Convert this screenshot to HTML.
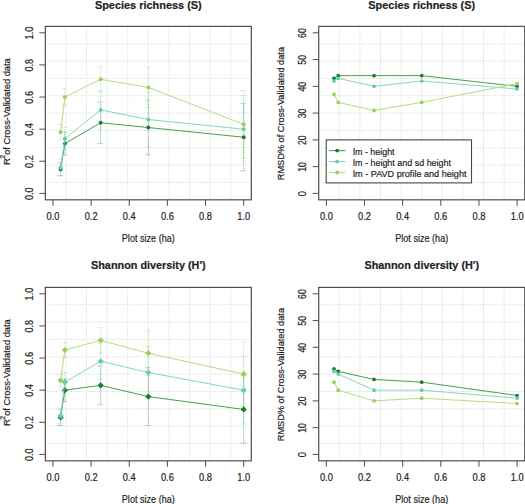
<!DOCTYPE html><html><head><meta charset="utf-8"><style>html,body{margin:0;padding:0;background:#fff;width:525px;height:504px;overflow:hidden}svg{display:block}text{font-family:"Liberation Sans",sans-serif;fill:#1e1e1e;stroke:#1e1e1e;stroke-width:0.2px}</style></head><body>
<svg width="525" height="504" viewBox="0 0 525 504">
<rect x="0" y="0" width="525" height="504" fill="#fff"/>
<g stroke="#d8d8d8" stroke-width="1" stroke-dasharray="1,1.15" fill="none">
<line x1="65.92" y1="26.38" x2="65.92" y2="199.82"/>
<line x1="45.32" y1="43.72" x2="251.33" y2="43.72"/>
<line x1="86.52" y1="26.38" x2="86.52" y2="199.82"/>
<line x1="45.32" y1="61.07" x2="251.33" y2="61.07"/>
<line x1="107.12" y1="26.38" x2="107.12" y2="199.82"/>
<line x1="45.32" y1="78.41" x2="251.33" y2="78.41"/>
<line x1="127.72" y1="26.38" x2="127.72" y2="199.82"/>
<line x1="45.32" y1="95.76" x2="251.33" y2="95.76"/>
<line x1="148.32" y1="26.38" x2="148.32" y2="199.82"/>
<line x1="45.32" y1="113.1" x2="251.33" y2="113.1"/>
<line x1="168.93" y1="26.38" x2="168.93" y2="199.82"/>
<line x1="45.32" y1="130.44" x2="251.33" y2="130.44"/>
<line x1="189.53" y1="26.38" x2="189.53" y2="199.82"/>
<line x1="45.32" y1="147.79" x2="251.33" y2="147.79"/>
<line x1="210.13" y1="26.38" x2="210.13" y2="199.82"/>
<line x1="45.32" y1="165.13" x2="251.33" y2="165.13"/>
<line x1="230.73" y1="26.38" x2="230.73" y2="199.82"/>
<line x1="45.32" y1="182.48" x2="251.33" y2="182.48"/>
</g>
<g stroke="#17802a" stroke-width="0.9" stroke-dasharray="1,1" fill="none" opacity="0.6">
<line x1="60.58" y1="175.73" x2="60.58" y2="162.89"/><line x1="57.58" y1="162.89" x2="63.58" y2="162.89"/><line x1="57.58" y1="175.73" x2="63.58" y2="175.73"/>
<line x1="64.87" y1="154.86" x2="64.87" y2="132.37"/><line x1="61.87" y1="132.37" x2="67.87" y2="132.37"/><line x1="61.87" y1="154.86" x2="67.87" y2="154.86"/>
<line x1="100.64" y1="143.61" x2="100.64" y2="101.86"/><line x1="97.64" y1="101.86" x2="103.64" y2="101.86"/><line x1="97.64" y1="143.61" x2="103.64" y2="143.61"/>
<line x1="148.32" y1="154.86" x2="148.32" y2="100.25"/><line x1="145.32" y1="100.25" x2="151.32" y2="100.25"/><line x1="145.32" y1="154.86" x2="151.32" y2="154.86"/>
<line x1="243.7" y1="170.92" x2="243.7" y2="103.46"/><line x1="240.7" y1="103.46" x2="246.7" y2="103.46"/><line x1="240.7" y1="170.92" x2="246.7" y2="170.92"/>
</g>
<g stroke="#66cdaa" stroke-width="0.9" stroke-dasharray="1,1" fill="none" opacity="0.6">
<line x1="60.58" y1="175.73" x2="60.58" y2="159.67"/><line x1="57.58" y1="159.67" x2="63.58" y2="159.67"/><line x1="57.58" y1="175.73" x2="63.58" y2="175.73"/>
<line x1="64.87" y1="150.04" x2="64.87" y2="127.55"/><line x1="61.87" y1="127.55" x2="67.87" y2="127.55"/><line x1="61.87" y1="150.04" x2="67.87" y2="150.04"/>
<line x1="100.64" y1="129.16" x2="100.64" y2="90.62"/><line x1="97.64" y1="90.62" x2="103.64" y2="90.62"/><line x1="97.64" y1="129.16" x2="103.64" y2="129.16"/>
<line x1="148.32" y1="146.83" x2="148.32" y2="92.22"/><line x1="145.32" y1="92.22" x2="151.32" y2="92.22"/><line x1="145.32" y1="146.83" x2="151.32" y2="146.83"/>
<line x1="243.7" y1="162.89" x2="243.7" y2="95.43"/><line x1="240.7" y1="95.43" x2="246.7" y2="95.43"/><line x1="240.7" y1="162.89" x2="246.7" y2="162.89"/>
</g>
<g stroke="#9ccf55" stroke-width="0.9" stroke-dasharray="1,1" fill="none" opacity="0.6">
<line x1="60.58" y1="140.4" x2="60.58" y2="124.34"/><line x1="57.58" y1="124.34" x2="63.58" y2="124.34"/><line x1="57.58" y1="140.4" x2="63.58" y2="140.4"/>
<line x1="64.87" y1="105.87" x2="64.87" y2="88.21"/><line x1="61.87" y1="88.21" x2="67.87" y2="88.21"/><line x1="61.87" y1="105.87" x2="67.87" y2="105.87"/>
<line x1="100.64" y1="92.22" x2="100.64" y2="66.53"/><line x1="97.64" y1="66.53" x2="103.64" y2="66.53"/><line x1="97.64" y1="92.22" x2="103.64" y2="92.22"/>
<line x1="148.32" y1="107.48" x2="148.32" y2="67.33"/><line x1="145.32" y1="67.33" x2="151.32" y2="67.33"/><line x1="145.32" y1="107.48" x2="151.32" y2="107.48"/>
<line x1="243.7" y1="158.07" x2="243.7" y2="90.62"/><line x1="240.7" y1="90.62" x2="246.7" y2="90.62"/><line x1="240.7" y1="158.07" x2="246.7" y2="158.07"/>
</g>
<polyline points="60.58,169.31 64.87,143.61 100.64,122.74 148.32,127.55 243.7,137.19" fill="none" stroke="#46a053" stroke-width="1"/>
<circle cx="60.58" cy="169.31" r="2" fill="#17802a"/>
<circle cx="64.87" cy="143.61" r="2" fill="#17802a"/>
<circle cx="100.64" cy="122.74" r="2" fill="#17802a"/>
<circle cx="148.32" cy="127.55" r="2" fill="#17802a"/>
<circle cx="243.7" cy="137.19" r="2" fill="#17802a"/>
<polyline points="60.58,167.7 64.87,138.8 100.64,109.89 148.32,119.52 243.7,129.16" fill="none" stroke="#86d6bb" stroke-width="1"/>
<circle cx="60.58" cy="167.7" r="2" fill="#66cdaa"/>
<circle cx="64.87" cy="138.8" r="2" fill="#66cdaa"/>
<circle cx="100.64" cy="109.89" r="2" fill="#66cdaa"/>
<circle cx="148.32" cy="119.52" r="2" fill="#66cdaa"/>
<circle cx="243.7" cy="129.16" r="2" fill="#66cdaa"/>
<polyline points="60.58,132.37 64.87,97.04 100.64,79.37 148.32,87.4 243.7,124.34" fill="none" stroke="#b4dc84" stroke-width="1"/>
<circle cx="60.58" cy="132.37" r="2" fill="#9ccf55"/>
<circle cx="64.87" cy="97.04" r="2" fill="#9ccf55"/>
<circle cx="100.64" cy="79.37" r="2" fill="#9ccf55"/>
<circle cx="148.32" cy="87.4" r="2" fill="#9ccf55"/>
<circle cx="243.7" cy="124.34" r="2" fill="#9ccf55"/>
<rect x="45.32" y="26.38" width="206.01" height="173.45" fill="none" stroke="#474747" stroke-width="1.15"/>
<line x1="39.32" y1="193.4" x2="45.32" y2="193.4" stroke="#555555" stroke-width="1.05"/>
<text x="0" y="0" font-size="10" text-anchor="middle" textLength="12.7" lengthAdjust="spacingAndGlyphs" transform="translate(32.82 193.7) rotate(-90)">0.0</text>
<line x1="39.32" y1="161.28" x2="45.32" y2="161.28" stroke="#555555" stroke-width="1.05"/>
<text x="0" y="0" font-size="10" text-anchor="middle" textLength="12.7" lengthAdjust="spacingAndGlyphs" transform="translate(32.82 161.58) rotate(-90)">0.2</text>
<line x1="39.32" y1="129.16" x2="45.32" y2="129.16" stroke="#555555" stroke-width="1.05"/>
<text x="0" y="0" font-size="10" text-anchor="middle" textLength="12.7" lengthAdjust="spacingAndGlyphs" transform="translate(32.82 129.46) rotate(-90)">0.4</text>
<line x1="39.32" y1="97.04" x2="45.32" y2="97.04" stroke="#555555" stroke-width="1.05"/>
<text x="0" y="0" font-size="10" text-anchor="middle" textLength="12.7" lengthAdjust="spacingAndGlyphs" transform="translate(32.82 97.34) rotate(-90)">0.6</text>
<line x1="39.32" y1="64.92" x2="45.32" y2="64.92" stroke="#555555" stroke-width="1.05"/>
<text x="0" y="0" font-size="10" text-anchor="middle" textLength="12.7" lengthAdjust="spacingAndGlyphs" transform="translate(32.82 65.22) rotate(-90)">0.8</text>
<line x1="39.32" y1="32.8" x2="45.32" y2="32.8" stroke="#555555" stroke-width="1.05"/>
<text x="0" y="0" font-size="10" text-anchor="middle" textLength="12.7" lengthAdjust="spacingAndGlyphs" transform="translate(32.82 33.1) rotate(-90)">1.0</text>
<line x1="52.95" y1="199.82" x2="52.95" y2="205.82" stroke="#555555" stroke-width="1.05"/>
<text x="52.95" y="220.22" font-size="10" text-anchor="middle" textLength="12.9" lengthAdjust="spacingAndGlyphs">0.0</text>
<line x1="91.1" y1="199.82" x2="91.1" y2="205.82" stroke="#555555" stroke-width="1.05"/>
<text x="91.1" y="220.22" font-size="10" text-anchor="middle" textLength="12.9" lengthAdjust="spacingAndGlyphs">0.2</text>
<line x1="129.25" y1="199.82" x2="129.25" y2="205.82" stroke="#555555" stroke-width="1.05"/>
<text x="129.25" y="220.22" font-size="10" text-anchor="middle" textLength="12.9" lengthAdjust="spacingAndGlyphs">0.4</text>
<line x1="167.4" y1="199.82" x2="167.4" y2="205.82" stroke="#555555" stroke-width="1.05"/>
<text x="167.4" y="220.22" font-size="10" text-anchor="middle" textLength="12.9" lengthAdjust="spacingAndGlyphs">0.6</text>
<line x1="205.55" y1="199.82" x2="205.55" y2="205.82" stroke="#555555" stroke-width="1.05"/>
<text x="205.55" y="220.22" font-size="10" text-anchor="middle" textLength="12.9" lengthAdjust="spacingAndGlyphs">0.8</text>
<line x1="243.7" y1="199.82" x2="243.7" y2="205.82" stroke="#555555" stroke-width="1.05"/>
<text x="243.7" y="220.22" font-size="10" text-anchor="middle" textLength="12.9" lengthAdjust="spacingAndGlyphs">1.0</text>
<text x="148.32" y="8.7" font-size="11.4" font-weight="bold" text-anchor="middle" textLength="106.8" lengthAdjust="spacingAndGlyphs">Species richness (S)</text>
<text x="148.32" y="242.3" font-size="10.8" text-anchor="middle" textLength="53" lengthAdjust="spacingAndGlyphs">Plot size (ha)</text>
<g transform="translate(10.1 165) rotate(-90)">
<text x="0" y="0" font-size="9.6">R</text>
<text x="6.2" y="-4.7" font-size="7">2</text>
<text x="10.2" y="0" font-size="9.6" textLength="96.6" lengthAdjust="spacingAndGlyphs">of Cross-Validated data</text>
</g>
<g stroke="#d8d8d8" stroke-width="1" stroke-dasharray="1,1.15" fill="none">
<line x1="339.32" y1="26.38" x2="339.32" y2="199.82"/>
<line x1="318.72" y1="43.72" x2="524.73" y2="43.72"/>
<line x1="359.92" y1="26.38" x2="359.92" y2="199.82"/>
<line x1="318.72" y1="61.07" x2="524.73" y2="61.07"/>
<line x1="380.52" y1="26.38" x2="380.52" y2="199.82"/>
<line x1="318.72" y1="78.41" x2="524.73" y2="78.41"/>
<line x1="401.12" y1="26.38" x2="401.12" y2="199.82"/>
<line x1="318.72" y1="95.76" x2="524.73" y2="95.76"/>
<line x1="421.73" y1="26.38" x2="421.73" y2="199.82"/>
<line x1="318.72" y1="113.1" x2="524.73" y2="113.1"/>
<line x1="442.33" y1="26.38" x2="442.33" y2="199.82"/>
<line x1="318.72" y1="130.44" x2="524.73" y2="130.44"/>
<line x1="462.93" y1="26.38" x2="462.93" y2="199.82"/>
<line x1="318.72" y1="147.79" x2="524.73" y2="147.79"/>
<line x1="483.53" y1="26.38" x2="483.53" y2="199.82"/>
<line x1="318.72" y1="165.13" x2="524.73" y2="165.13"/>
<line x1="504.13" y1="26.38" x2="504.13" y2="199.82"/>
<line x1="318.72" y1="182.48" x2="524.73" y2="182.48"/>
</g>
<polyline points="333.98,78.3 338.27,75.63 374.04,75.63 421.72,75.63 517.1,86.33" fill="none" stroke="#46a053" stroke-width="1"/>
<circle cx="333.98" cy="78.3" r="1.85" fill="#17802a"/>
<circle cx="338.27" cy="75.63" r="1.85" fill="#17802a"/>
<circle cx="374.04" cy="75.63" r="1.85" fill="#17802a"/>
<circle cx="421.72" cy="75.63" r="1.85" fill="#17802a"/>
<circle cx="517.1" cy="86.33" r="1.85" fill="#17802a"/>
<polyline points="333.98,80.98 338.27,78.3 374.04,86.33 421.72,80.98 517.1,89.01" fill="none" stroke="#86d6bb" stroke-width="1"/>
<circle cx="333.98" cy="80.98" r="1.85" fill="#66cdaa"/>
<circle cx="338.27" cy="78.3" r="1.85" fill="#66cdaa"/>
<circle cx="374.04" cy="86.33" r="1.85" fill="#66cdaa"/>
<circle cx="421.72" cy="80.98" r="1.85" fill="#66cdaa"/>
<circle cx="517.1" cy="89.01" r="1.85" fill="#66cdaa"/>
<polyline points="333.98,94.36 338.27,102.39 374.04,110.42 421.72,102.39 517.1,83.66" fill="none" stroke="#b4dc84" stroke-width="1"/>
<circle cx="333.98" cy="94.36" r="1.85" fill="#9ccf55"/>
<circle cx="338.27" cy="102.39" r="1.85" fill="#9ccf55"/>
<circle cx="374.04" cy="110.42" r="1.85" fill="#9ccf55"/>
<circle cx="421.72" cy="102.39" r="1.85" fill="#9ccf55"/>
<circle cx="517.1" cy="83.66" r="1.85" fill="#9ccf55"/>
<rect x="318.72" y="26.38" width="206.01" height="173.45" fill="none" stroke="#474747" stroke-width="1.15"/>
<line x1="312.72" y1="193.4" x2="318.72" y2="193.4" stroke="#555555" stroke-width="1.05"/>
<text x="0" y="0" font-size="10" text-anchor="middle" textLength="5.2" lengthAdjust="spacingAndGlyphs" transform="translate(306.22 193.7) rotate(-90)">0</text>
<line x1="312.72" y1="166.63" x2="318.72" y2="166.63" stroke="#555555" stroke-width="1.05"/>
<text x="0" y="0" font-size="10" text-anchor="middle" textLength="9.6" lengthAdjust="spacingAndGlyphs" transform="translate(306.22 166.93) rotate(-90)">10</text>
<line x1="312.72" y1="139.87" x2="318.72" y2="139.87" stroke="#555555" stroke-width="1.05"/>
<text x="0" y="0" font-size="10" text-anchor="middle" textLength="9.6" lengthAdjust="spacingAndGlyphs" transform="translate(306.22 140.17) rotate(-90)">20</text>
<line x1="312.72" y1="113.1" x2="318.72" y2="113.1" stroke="#555555" stroke-width="1.05"/>
<text x="0" y="0" font-size="10" text-anchor="middle" textLength="9.6" lengthAdjust="spacingAndGlyphs" transform="translate(306.22 113.4) rotate(-90)">30</text>
<line x1="312.72" y1="86.33" x2="318.72" y2="86.33" stroke="#555555" stroke-width="1.05"/>
<text x="0" y="0" font-size="10" text-anchor="middle" textLength="9.6" lengthAdjust="spacingAndGlyphs" transform="translate(306.22 86.63) rotate(-90)">40</text>
<line x1="312.72" y1="59.57" x2="318.72" y2="59.57" stroke="#555555" stroke-width="1.05"/>
<text x="0" y="0" font-size="10" text-anchor="middle" textLength="9.6" lengthAdjust="spacingAndGlyphs" transform="translate(306.22 59.87) rotate(-90)">50</text>
<line x1="312.72" y1="32.8" x2="318.72" y2="32.8" stroke="#555555" stroke-width="1.05"/>
<text x="0" y="0" font-size="10" text-anchor="middle" textLength="9.6" lengthAdjust="spacingAndGlyphs" transform="translate(306.22 33.1) rotate(-90)">60</text>
<line x1="326.35" y1="199.82" x2="326.35" y2="205.82" stroke="#555555" stroke-width="1.05"/>
<text x="326.35" y="220.22" font-size="10" text-anchor="middle" textLength="12.9" lengthAdjust="spacingAndGlyphs">0.0</text>
<line x1="364.5" y1="199.82" x2="364.5" y2="205.82" stroke="#555555" stroke-width="1.05"/>
<text x="364.5" y="220.22" font-size="10" text-anchor="middle" textLength="12.9" lengthAdjust="spacingAndGlyphs">0.2</text>
<line x1="402.65" y1="199.82" x2="402.65" y2="205.82" stroke="#555555" stroke-width="1.05"/>
<text x="402.65" y="220.22" font-size="10" text-anchor="middle" textLength="12.9" lengthAdjust="spacingAndGlyphs">0.4</text>
<line x1="440.8" y1="199.82" x2="440.8" y2="205.82" stroke="#555555" stroke-width="1.05"/>
<text x="440.8" y="220.22" font-size="10" text-anchor="middle" textLength="12.9" lengthAdjust="spacingAndGlyphs">0.6</text>
<line x1="478.95" y1="199.82" x2="478.95" y2="205.82" stroke="#555555" stroke-width="1.05"/>
<text x="478.95" y="220.22" font-size="10" text-anchor="middle" textLength="12.9" lengthAdjust="spacingAndGlyphs">0.8</text>
<line x1="517.1" y1="199.82" x2="517.1" y2="205.82" stroke="#555555" stroke-width="1.05"/>
<text x="517.1" y="220.22" font-size="10" text-anchor="middle" textLength="12.9" lengthAdjust="spacingAndGlyphs">1.0</text>
<text x="421.73" y="8.7" font-size="11.4" font-weight="bold" text-anchor="middle" textLength="106.8" lengthAdjust="spacingAndGlyphs">Species richness (S)</text>
<text x="421.73" y="242.3" font-size="10.8" text-anchor="middle" textLength="53" lengthAdjust="spacingAndGlyphs">Plot size (ha)</text>
<text x="0" y="0" font-size="9.4" text-anchor="middle" textLength="133.2" lengthAdjust="spacingAndGlyphs" transform="translate(283.9 113.6) rotate(-90)">RMSD% of Cross-Validated data</text>
<rect x="326.2" y="139.9" width="145.3" height="43" fill="#fff" stroke="#474747" stroke-width="1.1"/>
<line x1="329" y1="150.6" x2="345.3" y2="150.6" stroke="#46a053" stroke-width="1.1"/>
<circle cx="337.2" cy="150.6" r="1.9" fill="#17802a"/>
<text x="353.1" y="154.8" font-size="9.9" textLength="41.5" lengthAdjust="spacingAndGlyphs">lm - height</text>
<line x1="329" y1="161.55" x2="345.3" y2="161.55" stroke="#86d6bb" stroke-width="1.1"/>
<circle cx="337.2" cy="161.55" r="1.9" fill="#66cdaa"/>
<text x="353.1" y="165.75" font-size="9.9" textLength="97.9" lengthAdjust="spacingAndGlyphs">lm - height and sd height</text>
<line x1="329" y1="172.5" x2="345.3" y2="172.5" stroke="#b4dc84" stroke-width="1.1"/>
<circle cx="337.2" cy="172.5" r="1.9" fill="#9ccf55"/>
<text x="353.1" y="176.7" font-size="9.9" textLength="113.4" lengthAdjust="spacingAndGlyphs">lm - PAVD profile and height</text>
<g stroke="#d8d8d8" stroke-width="1" stroke-dasharray="1,1.15" fill="none">
<line x1="65.92" y1="287.38" x2="65.92" y2="460.82"/>
<line x1="45.32" y1="304.72" x2="251.33" y2="304.72"/>
<line x1="86.52" y1="287.38" x2="86.52" y2="460.82"/>
<line x1="45.32" y1="322.07" x2="251.33" y2="322.07"/>
<line x1="107.12" y1="287.38" x2="107.12" y2="460.82"/>
<line x1="45.32" y1="339.41" x2="251.33" y2="339.41"/>
<line x1="127.72" y1="287.38" x2="127.72" y2="460.82"/>
<line x1="45.32" y1="356.76" x2="251.33" y2="356.76"/>
<line x1="148.32" y1="287.38" x2="148.32" y2="460.82"/>
<line x1="45.32" y1="374.1" x2="251.33" y2="374.1"/>
<line x1="168.93" y1="287.38" x2="168.93" y2="460.82"/>
<line x1="45.32" y1="391.44" x2="251.33" y2="391.44"/>
<line x1="189.53" y1="287.38" x2="189.53" y2="460.82"/>
<line x1="45.32" y1="408.79" x2="251.33" y2="408.79"/>
<line x1="210.13" y1="287.38" x2="210.13" y2="460.82"/>
<line x1="45.32" y1="426.13" x2="251.33" y2="426.13"/>
<line x1="230.73" y1="287.38" x2="230.73" y2="460.82"/>
<line x1="45.32" y1="443.48" x2="251.33" y2="443.48"/>
</g>
<g stroke="#17802a" stroke-width="0.9" stroke-dasharray="1,1" fill="none" opacity="0.6">
<line x1="60.58" y1="425.49" x2="60.58" y2="409.43"/><line x1="57.58" y1="409.43" x2="63.58" y2="409.43"/><line x1="57.58" y1="425.49" x2="63.58" y2="425.49"/>
<line x1="64.87" y1="401.4" x2="64.87" y2="378.92"/><line x1="61.87" y1="378.92" x2="67.87" y2="378.92"/><line x1="61.87" y1="401.4" x2="67.87" y2="401.4"/>
<line x1="100.64" y1="404.61" x2="100.64" y2="366.07"/><line x1="97.64" y1="366.07" x2="103.64" y2="366.07"/><line x1="97.64" y1="404.61" x2="103.64" y2="404.61"/>
<line x1="148.32" y1="425.49" x2="148.32" y2="367.68"/><line x1="145.32" y1="367.68" x2="151.32" y2="367.68"/><line x1="145.32" y1="425.49" x2="151.32" y2="425.49"/>
<line x1="243.7" y1="443.16" x2="243.7" y2="375.71"/><line x1="240.7" y1="375.71" x2="246.7" y2="375.71"/><line x1="240.7" y1="443.16" x2="246.7" y2="443.16"/>
</g>
<g stroke="#66cdaa" stroke-width="0.9" stroke-dasharray="1,1" fill="none" opacity="0.6">
<line x1="60.58" y1="423.89" x2="60.58" y2="407.83"/><line x1="57.58" y1="407.83" x2="63.58" y2="407.83"/><line x1="57.58" y1="423.89" x2="63.58" y2="423.89"/>
<line x1="64.87" y1="391.77" x2="64.87" y2="372.49"/><line x1="61.87" y1="372.49" x2="67.87" y2="372.49"/><line x1="61.87" y1="391.77" x2="67.87" y2="391.77"/>
<line x1="100.64" y1="378.92" x2="100.64" y2="343.59"/><line x1="97.64" y1="343.59" x2="103.64" y2="343.59"/><line x1="97.64" y1="378.92" x2="103.64" y2="378.92"/>
<line x1="148.32" y1="398.19" x2="148.32" y2="346.8"/><line x1="145.32" y1="346.8" x2="151.32" y2="346.8"/><line x1="145.32" y1="398.19" x2="151.32" y2="398.19"/>
<line x1="243.7" y1="423.89" x2="243.7" y2="356.43"/><line x1="240.7" y1="356.43" x2="246.7" y2="356.43"/><line x1="240.7" y1="423.89" x2="246.7" y2="423.89"/>
</g>
<g stroke="#9ccf55" stroke-width="0.9" stroke-dasharray="1,1" fill="none" opacity="0.6">
<line x1="60.58" y1="386.95" x2="60.58" y2="374.1"/><line x1="57.58" y1="374.1" x2="63.58" y2="374.1"/><line x1="57.58" y1="386.95" x2="63.58" y2="386.95"/>
<line x1="64.87" y1="358.04" x2="64.87" y2="341.98"/><line x1="61.87" y1="341.98" x2="67.87" y2="341.98"/><line x1="61.87" y1="358.04" x2="67.87" y2="358.04"/>
<line x1="100.64" y1="353.22" x2="100.64" y2="327.53"/><line x1="97.64" y1="327.53" x2="103.64" y2="327.53"/><line x1="97.64" y1="353.22" x2="103.64" y2="353.22"/>
<line x1="148.32" y1="375.71" x2="148.32" y2="330.74"/><line x1="145.32" y1="330.74" x2="151.32" y2="330.74"/><line x1="145.32" y1="375.71" x2="151.32" y2="375.71"/>
<line x1="243.7" y1="406.22" x2="243.7" y2="341.98"/><line x1="240.7" y1="341.98" x2="246.7" y2="341.98"/><line x1="240.7" y1="406.22" x2="246.7" y2="406.22"/>
</g>
<polyline points="60.58,417.46 64.87,390.16 100.64,385.34 148.32,396.58 243.7,409.43" fill="none" stroke="#46a053" stroke-width="1"/>
<path d="M60.58 414.36L63.68 417.46L60.58 420.56L57.48 417.46Z" fill="#17802a"/>
<path d="M64.87 387.06L67.97 390.16L64.87 393.26L61.77 390.16Z" fill="#17802a"/>
<path d="M100.64 382.24L103.74 385.34L100.64 388.44L97.54 385.34Z" fill="#17802a"/>
<path d="M148.32 393.48L151.42 396.58L148.32 399.68L145.22 396.58Z" fill="#17802a"/>
<path d="M243.7 406.33L246.8 409.43L243.7 412.53L240.6 409.43Z" fill="#17802a"/>
<polyline points="60.58,415.86 64.87,382.13 100.64,361.25 148.32,372.49 243.7,390.16" fill="none" stroke="#86d6bb" stroke-width="1"/>
<path d="M60.58 412.76L63.68 415.86L60.58 418.96L57.48 415.86Z" fill="#66cdaa"/>
<path d="M64.87 379.03L67.97 382.13L64.87 385.23L61.77 382.13Z" fill="#66cdaa"/>
<path d="M100.64 358.15L103.74 361.25L100.64 364.35L97.54 361.25Z" fill="#66cdaa"/>
<path d="M148.32 369.39L151.42 372.49L148.32 375.59L145.22 372.49Z" fill="#66cdaa"/>
<path d="M243.7 387.06L246.8 390.16L243.7 393.26L240.6 390.16Z" fill="#66cdaa"/>
<polyline points="60.58,380.52 64.87,350.01 100.64,340.37 148.32,353.22 243.7,374.1" fill="none" stroke="#b4dc84" stroke-width="1"/>
<path d="M60.58 377.42L63.68 380.52L60.58 383.62L57.48 380.52Z" fill="#9ccf55"/>
<path d="M64.87 346.91L67.97 350.01L64.87 353.11L61.77 350.01Z" fill="#9ccf55"/>
<path d="M100.64 337.27L103.74 340.37L100.64 343.47L97.54 340.37Z" fill="#9ccf55"/>
<path d="M148.32 350.12L151.42 353.22L148.32 356.32L145.22 353.22Z" fill="#9ccf55"/>
<path d="M243.7 371L246.8 374.1L243.7 377.2L240.6 374.1Z" fill="#9ccf55"/>
<rect x="45.32" y="287.38" width="206.01" height="173.45" fill="none" stroke="#474747" stroke-width="1.15"/>
<line x1="39.32" y1="454.4" x2="45.32" y2="454.4" stroke="#555555" stroke-width="1.05"/>
<text x="0" y="0" font-size="10" text-anchor="middle" textLength="12.7" lengthAdjust="spacingAndGlyphs" transform="translate(32.82 454.7) rotate(-90)">0.0</text>
<line x1="39.32" y1="422.28" x2="45.32" y2="422.28" stroke="#555555" stroke-width="1.05"/>
<text x="0" y="0" font-size="10" text-anchor="middle" textLength="12.7" lengthAdjust="spacingAndGlyphs" transform="translate(32.82 422.58) rotate(-90)">0.2</text>
<line x1="39.32" y1="390.16" x2="45.32" y2="390.16" stroke="#555555" stroke-width="1.05"/>
<text x="0" y="0" font-size="10" text-anchor="middle" textLength="12.7" lengthAdjust="spacingAndGlyphs" transform="translate(32.82 390.46) rotate(-90)">0.4</text>
<line x1="39.32" y1="358.04" x2="45.32" y2="358.04" stroke="#555555" stroke-width="1.05"/>
<text x="0" y="0" font-size="10" text-anchor="middle" textLength="12.7" lengthAdjust="spacingAndGlyphs" transform="translate(32.82 358.34) rotate(-90)">0.6</text>
<line x1="39.32" y1="325.92" x2="45.32" y2="325.92" stroke="#555555" stroke-width="1.05"/>
<text x="0" y="0" font-size="10" text-anchor="middle" textLength="12.7" lengthAdjust="spacingAndGlyphs" transform="translate(32.82 326.22) rotate(-90)">0.8</text>
<line x1="39.32" y1="293.8" x2="45.32" y2="293.8" stroke="#555555" stroke-width="1.05"/>
<text x="0" y="0" font-size="10" text-anchor="middle" textLength="12.7" lengthAdjust="spacingAndGlyphs" transform="translate(32.82 294.1) rotate(-90)">1.0</text>
<line x1="52.95" y1="460.82" x2="52.95" y2="466.82" stroke="#555555" stroke-width="1.05"/>
<text x="52.95" y="481.22" font-size="10" text-anchor="middle" textLength="12.9" lengthAdjust="spacingAndGlyphs">0.0</text>
<line x1="91.1" y1="460.82" x2="91.1" y2="466.82" stroke="#555555" stroke-width="1.05"/>
<text x="91.1" y="481.22" font-size="10" text-anchor="middle" textLength="12.9" lengthAdjust="spacingAndGlyphs">0.2</text>
<line x1="129.25" y1="460.82" x2="129.25" y2="466.82" stroke="#555555" stroke-width="1.05"/>
<text x="129.25" y="481.22" font-size="10" text-anchor="middle" textLength="12.9" lengthAdjust="spacingAndGlyphs">0.4</text>
<line x1="167.4" y1="460.82" x2="167.4" y2="466.82" stroke="#555555" stroke-width="1.05"/>
<text x="167.4" y="481.22" font-size="10" text-anchor="middle" textLength="12.9" lengthAdjust="spacingAndGlyphs">0.6</text>
<line x1="205.55" y1="460.82" x2="205.55" y2="466.82" stroke="#555555" stroke-width="1.05"/>
<text x="205.55" y="481.22" font-size="10" text-anchor="middle" textLength="12.9" lengthAdjust="spacingAndGlyphs">0.8</text>
<line x1="243.7" y1="460.82" x2="243.7" y2="466.82" stroke="#555555" stroke-width="1.05"/>
<text x="243.7" y="481.22" font-size="10" text-anchor="middle" textLength="12.9" lengthAdjust="spacingAndGlyphs">1.0</text>
<text x="148.32" y="269.3" font-size="11.4" font-weight="bold" text-anchor="middle" textLength="114.6" lengthAdjust="spacingAndGlyphs">Shannon diversity (H&#39;)</text>
<text x="148.32" y="503.3" font-size="10.8" text-anchor="middle" textLength="53" lengthAdjust="spacingAndGlyphs">Plot size (ha)</text>
<g transform="translate(10.1 426) rotate(-90)">
<text x="0" y="0" font-size="9.6">R</text>
<text x="6.2" y="-4.7" font-size="7">2</text>
<text x="10.2" y="0" font-size="9.6" textLength="96.6" lengthAdjust="spacingAndGlyphs">of Cross-Validated data</text>
</g>
<g stroke="#d8d8d8" stroke-width="1" stroke-dasharray="1,1.15" fill="none">
<line x1="339.32" y1="287.38" x2="339.32" y2="460.82"/>
<line x1="318.72" y1="304.72" x2="524.73" y2="304.72"/>
<line x1="359.92" y1="287.38" x2="359.92" y2="460.82"/>
<line x1="318.72" y1="322.07" x2="524.73" y2="322.07"/>
<line x1="380.52" y1="287.38" x2="380.52" y2="460.82"/>
<line x1="318.72" y1="339.41" x2="524.73" y2="339.41"/>
<line x1="401.12" y1="287.38" x2="401.12" y2="460.82"/>
<line x1="318.72" y1="356.76" x2="524.73" y2="356.76"/>
<line x1="421.73" y1="287.38" x2="421.73" y2="460.82"/>
<line x1="318.72" y1="374.1" x2="524.73" y2="374.1"/>
<line x1="442.33" y1="287.38" x2="442.33" y2="460.82"/>
<line x1="318.72" y1="391.44" x2="524.73" y2="391.44"/>
<line x1="462.93" y1="287.38" x2="462.93" y2="460.82"/>
<line x1="318.72" y1="408.79" x2="524.73" y2="408.79"/>
<line x1="483.53" y1="287.38" x2="483.53" y2="460.82"/>
<line x1="318.72" y1="426.13" x2="524.73" y2="426.13"/>
<line x1="504.13" y1="287.38" x2="504.13" y2="460.82"/>
<line x1="318.72" y1="443.48" x2="524.73" y2="443.48"/>
</g>
<polyline points="333.98,368.75 338.27,371.42 374.04,379.45 421.72,382.13 517.1,395.51" fill="none" stroke="#46a053" stroke-width="1"/>
<circle cx="333.98" cy="368.75" r="1.85" fill="#17802a"/>
<circle cx="338.27" cy="371.42" r="1.85" fill="#17802a"/>
<circle cx="374.04" cy="379.45" r="1.85" fill="#17802a"/>
<circle cx="421.72" cy="382.13" r="1.85" fill="#17802a"/>
<circle cx="517.1" cy="395.51" r="1.85" fill="#17802a"/>
<polyline points="333.98,371.42 338.27,374.1 374.04,390.16 421.72,390.16 517.1,398.19" fill="none" stroke="#86d6bb" stroke-width="1"/>
<circle cx="333.98" cy="371.42" r="1.85" fill="#66cdaa"/>
<circle cx="338.27" cy="374.1" r="1.85" fill="#66cdaa"/>
<circle cx="374.04" cy="390.16" r="1.85" fill="#66cdaa"/>
<circle cx="421.72" cy="390.16" r="1.85" fill="#66cdaa"/>
<circle cx="517.1" cy="398.19" r="1.85" fill="#66cdaa"/>
<polyline points="333.98,382.13 338.27,390.16 374.04,400.87 421.72,398.19 517.1,403.54" fill="none" stroke="#b4dc84" stroke-width="1"/>
<circle cx="333.98" cy="382.13" r="1.85" fill="#9ccf55"/>
<circle cx="338.27" cy="390.16" r="1.85" fill="#9ccf55"/>
<circle cx="374.04" cy="400.87" r="1.85" fill="#9ccf55"/>
<circle cx="421.72" cy="398.19" r="1.85" fill="#9ccf55"/>
<circle cx="517.1" cy="403.54" r="1.85" fill="#9ccf55"/>
<rect x="318.72" y="287.38" width="206.01" height="173.45" fill="none" stroke="#474747" stroke-width="1.15"/>
<line x1="312.72" y1="454.4" x2="318.72" y2="454.4" stroke="#555555" stroke-width="1.05"/>
<text x="0" y="0" font-size="10" text-anchor="middle" textLength="5.2" lengthAdjust="spacingAndGlyphs" transform="translate(306.22 454.7) rotate(-90)">0</text>
<line x1="312.72" y1="427.63" x2="318.72" y2="427.63" stroke="#555555" stroke-width="1.05"/>
<text x="0" y="0" font-size="10" text-anchor="middle" textLength="9.6" lengthAdjust="spacingAndGlyphs" transform="translate(306.22 427.93) rotate(-90)">10</text>
<line x1="312.72" y1="400.87" x2="318.72" y2="400.87" stroke="#555555" stroke-width="1.05"/>
<text x="0" y="0" font-size="10" text-anchor="middle" textLength="9.6" lengthAdjust="spacingAndGlyphs" transform="translate(306.22 401.17) rotate(-90)">20</text>
<line x1="312.72" y1="374.1" x2="318.72" y2="374.1" stroke="#555555" stroke-width="1.05"/>
<text x="0" y="0" font-size="10" text-anchor="middle" textLength="9.6" lengthAdjust="spacingAndGlyphs" transform="translate(306.22 374.4) rotate(-90)">30</text>
<line x1="312.72" y1="347.33" x2="318.72" y2="347.33" stroke="#555555" stroke-width="1.05"/>
<text x="0" y="0" font-size="10" text-anchor="middle" textLength="9.6" lengthAdjust="spacingAndGlyphs" transform="translate(306.22 347.63) rotate(-90)">40</text>
<line x1="312.72" y1="320.57" x2="318.72" y2="320.57" stroke="#555555" stroke-width="1.05"/>
<text x="0" y="0" font-size="10" text-anchor="middle" textLength="9.6" lengthAdjust="spacingAndGlyphs" transform="translate(306.22 320.87) rotate(-90)">50</text>
<line x1="312.72" y1="293.8" x2="318.72" y2="293.8" stroke="#555555" stroke-width="1.05"/>
<text x="0" y="0" font-size="10" text-anchor="middle" textLength="9.6" lengthAdjust="spacingAndGlyphs" transform="translate(306.22 294.1) rotate(-90)">60</text>
<line x1="326.35" y1="460.82" x2="326.35" y2="466.82" stroke="#555555" stroke-width="1.05"/>
<text x="326.35" y="481.22" font-size="10" text-anchor="middle" textLength="12.9" lengthAdjust="spacingAndGlyphs">0.0</text>
<line x1="364.5" y1="460.82" x2="364.5" y2="466.82" stroke="#555555" stroke-width="1.05"/>
<text x="364.5" y="481.22" font-size="10" text-anchor="middle" textLength="12.9" lengthAdjust="spacingAndGlyphs">0.2</text>
<line x1="402.65" y1="460.82" x2="402.65" y2="466.82" stroke="#555555" stroke-width="1.05"/>
<text x="402.65" y="481.22" font-size="10" text-anchor="middle" textLength="12.9" lengthAdjust="spacingAndGlyphs">0.4</text>
<line x1="440.8" y1="460.82" x2="440.8" y2="466.82" stroke="#555555" stroke-width="1.05"/>
<text x="440.8" y="481.22" font-size="10" text-anchor="middle" textLength="12.9" lengthAdjust="spacingAndGlyphs">0.6</text>
<line x1="478.95" y1="460.82" x2="478.95" y2="466.82" stroke="#555555" stroke-width="1.05"/>
<text x="478.95" y="481.22" font-size="10" text-anchor="middle" textLength="12.9" lengthAdjust="spacingAndGlyphs">0.8</text>
<line x1="517.1" y1="460.82" x2="517.1" y2="466.82" stroke="#555555" stroke-width="1.05"/>
<text x="517.1" y="481.22" font-size="10" text-anchor="middle" textLength="12.9" lengthAdjust="spacingAndGlyphs">1.0</text>
<text x="421.73" y="269.3" font-size="11.4" font-weight="bold" text-anchor="middle" textLength="114.6" lengthAdjust="spacingAndGlyphs">Shannon diversity (H&#39;)</text>
<text x="421.73" y="503.3" font-size="10.8" text-anchor="middle" textLength="53" lengthAdjust="spacingAndGlyphs">Plot size (ha)</text>
<text x="0" y="0" font-size="9.4" text-anchor="middle" textLength="133.2" lengthAdjust="spacingAndGlyphs" transform="translate(283.9 374.6) rotate(-90)">RMSD% of Cross-Validated data</text>
</svg></body></html>
